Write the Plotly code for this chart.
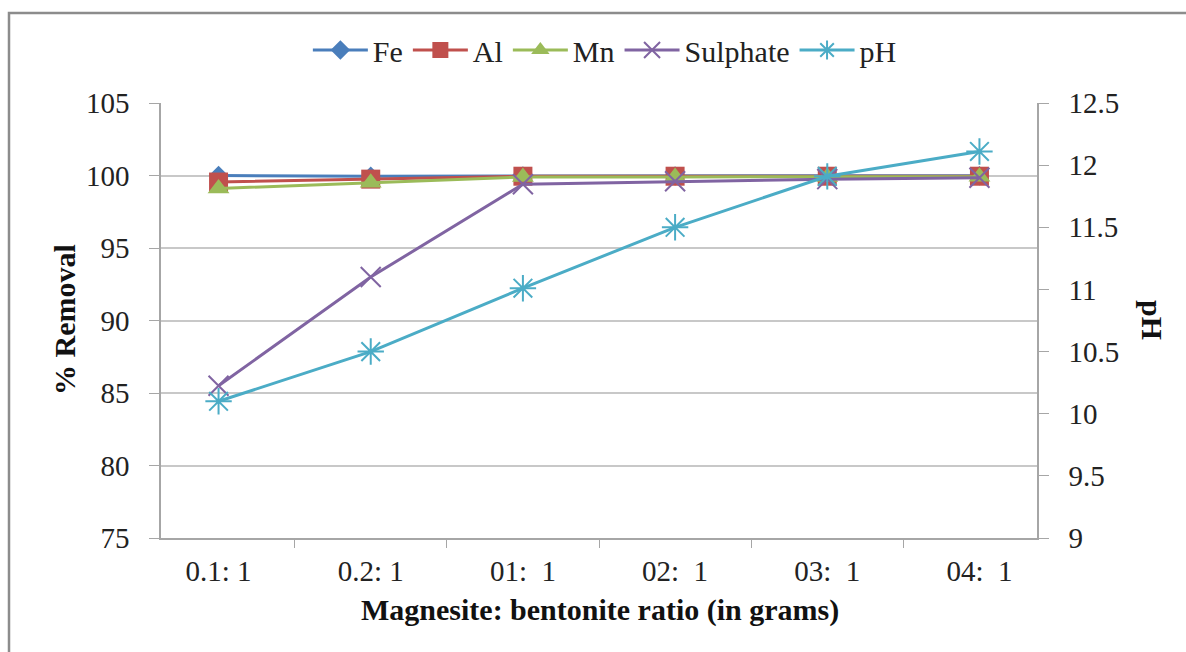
import plotly.graph_objects as go

ratios = ["0.1: 1", "0.2: 1", "01:  1", "02:  1", "03:  1", "04:  1"]
fe = [100.0, 99.95, 99.97, 99.97, 99.97, 99.98]
al = [99.55, 99.75, 99.95, 99.95, 99.95, 99.95]
mn = [99.1, 99.5, 99.9, 99.9, 99.9, 99.92]
sulphate = [85.5, 93.0, 99.4, 99.6, 99.75, 99.85]
ph = [10.1, 10.5, 11.01, 11.5, 11.91, 12.11]

FONT = "Liberation Serif"
W, H = 1186, 652
L, R, T, B = 161, 1037, 103, 538  # plot-area edges in pixels


def px_x(x):
    return (x - L) / (R - L)


def px_y(y):
    return (B - y) / (B - T)


fig = go.Figure()


def add_series(name, y, color, symbol, size, axis="y", mline=None):
    marker = dict(symbol=symbol, size=size, color=color)
    if mline:
        marker["line"] = dict(color=color, width=mline)
    fig.add_trace(go.Scatter(
        x=ratios, y=y, name=name, mode="lines+markers", yaxis=axis,
        line=dict(color=color, width=3), marker=marker,
    ))


add_series("Fe", fe, "#4A7EBB", "diamond", 15)
add_series("Al", al, "#C0504D", "square", 19)
add_series("Mn", mn, "#9BBB59", "triangle-up", 19)
add_series("Sulphate", sulphate, "#8064A2", "x-thin-open", 20, mline=2)
add_series("pH", ph, "#4BACC6", "asterisk-open", 22, axis="y2", mline=2)

tick_font = dict(size=29, family=FONT, color="#222")
title_font = dict(size=30, family=FONT, color="#111")

fig.update_layout(
    width=W, height=H,
    margin=dict(l=L, r=W - R, t=T, b=H - B, autoexpand=False),
    paper_bgcolor="white", plot_bgcolor="white",
    font=dict(family=FONT, size=29, color="#222"),
    showlegend=True,
    legend=dict(orientation="h", xref="container", yref="container",
                x=0.51, xanchor="center", y=1 - 50 / H, yanchor="middle",
                font=dict(size=30, family=FONT, color="#222"), itemwidth=55,
                tracegroupgap=0, bgcolor="rgba(0,0,0,0)"),
    xaxis=dict(
        type="category", showgrid=False, showline=True, linecolor="#a6a6a6", linewidth=1.5,
        ticks="outside", tickson="boundaries", ticklen=8, tickcolor="#a6a6a6",
        ticklabelstandoff=6, tickfont=tick_font, automargin=False,
    ),
    yaxis=dict(
        range=[75, 105], dtick=5, showgrid=True, gridcolor="#c8c8c8", gridwidth=1.5,
        showline=True, linecolor="#a6a6a6", linewidth=1.5,
        ticks="outside", ticklen=10, tickcolor="#a6a6a6", ticklabelstandoff=14,
        tickfont=tick_font, zeroline=False, automargin=False,
    ),
    yaxis2=dict(
        range=[9, 12.5], dtick=0.5, overlaying="y", side="right", showgrid=False,
        showline=True, linecolor="#a6a6a6", linewidth=1.5,
        ticks="outside", ticklen=10, tickcolor="#a6a6a6", ticklabelstandoff=14,
        tickfont=tick_font, zeroline=False, automargin=False,
    ),
    annotations=[
        dict(text="<b>% Removal</b>", xref="paper", yref="paper",
             x=px_x(64), y=px_y(320), xanchor="center", yanchor="middle",
             textangle=-90, showarrow=False, font=title_font),
        dict(text="<b>pH</b>", xref="paper", yref="paper",
             x=px_x(1153), y=px_y(320), xanchor="center", yanchor="middle",
             textangle=90, showarrow=False, font=title_font),
        dict(text="<b>Magnesite: bentonite ratio (in grams)</b>", xref="paper", yref="paper",
             x=px_x(600), y=px_y(610), xanchor="center", yanchor="middle",
             showarrow=False, font=title_font),
    ],
    shapes=[dict(type="rect", xref="paper", yref="paper",
                 x0=px_x(9), x1=px_x(1200), y0=px_y(670), y1=px_y(13),
                 line=dict(color="#8c8c8c", width=2.5), layer="below")],
)

fig.write_html("out.html")
